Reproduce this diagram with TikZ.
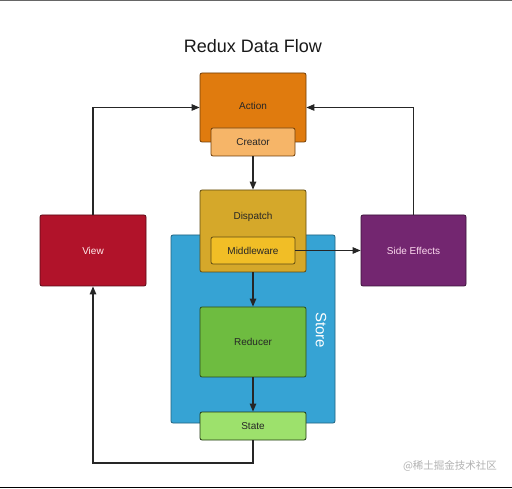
\documentclass[tikz,border=0pt]{standalone}
\usepackage{fontspec}
\setmainfont{Liberation Sans}
\newfontfamily\cjk{Noto Sans CJK SC}
\usetikzlibrary{arrows.meta}
\definecolor{cAction}{HTML}{E07B0E}
\definecolor{cCreator}{HTML}{F6B568}
\definecolor{cDispatch}{HTML}{D5A82A}
\definecolor{cMiddle}{HTML}{F1BE26}
\definecolor{cStore}{HTML}{36A3D4}
\definecolor{cReducer}{HTML}{6EBC40}
\definecolor{cState}{HTML}{9DE16C}
\definecolor{cView}{HTML}{B1132A}
\definecolor{cSide}{HTML}{732670}
\definecolor{cBorder}{HTML}{3A3020}
\tikzset{
  box/.style={draw=cBorder, line width=0.8pt, rounded corners=2pt, inner sep=0pt,
    font=\fontsize{10}{12}\selectfont, text=black!85},
  flow/.style={line width=1.2pt, draw=black!85, -{Triangle[length=8pt,width=6.5pt]}},
  plain/.style={line width=1.2pt, draw=black!85}
}
\begin{document}
\begin{tikzpicture}[x=1pt,y=-1pt]
\useasboundingbox (0,0) rectangle (512,489);
\fill[white] (0,0) rectangle (512,489);
\draw[black!60, line width=0.8pt] (0,0.5) -- (512,0.5);
\draw[black, line width=1.2pt] (0,487.8) -- (512,487.8);

\node[font=\fontsize{18}{20}\selectfont, text=black!90] (title) at (253,46) {Redux Data Flow};

% store (behind)
\node[box, fill=cStore, draw=cStore!60!black, minimum width=164pt, minimum height=188pt] (store) at (253,329) {};
\node[rotate=-90, text=white, font=\fontsize{15}{17}\selectfont] (storelbl) at (321,330) {Store};

% action + creator
\node[box, fill=cAction, draw=cAction!50!black, minimum width=106pt, minimum height=69pt] (action) at (253,107.5) {};
\node[font=\fontsize{10}{12}\selectfont, text=black!85] (actionlbl) at (253,106) {Action};
\node[box, fill=cCreator, draw=cAction!50!black, minimum width=84pt, minimum height=28pt] (creator) at (253,142) {Creator};

% dispatch + middleware
\node[box, fill=cDispatch, draw=cDispatch!45!black, minimum width=106pt, minimum height=82pt] (dispatch) at (253,231) {};
\node[font=\fontsize{10}{12}\selectfont, text=black!85] (dispatchlbl) at (253,217) {Dispatch};
\node[box, fill=cMiddle, draw=cDispatch!45!black, minimum width=84pt, minimum height=27pt] (mw) at (253,250.5) {Middleware};

% reducer + state
\node[box, fill=cReducer, draw=cReducer!40!black, minimum width=106pt, minimum height=70pt] (reducer) at (253,342) {Reducer};
\node[box, fill=cState, draw=cReducer!30!black, minimum width=106pt, minimum height=28pt] (state) at (253,426) {State};

% view + side effects
\node[box, fill=cView, draw=cView!50!black, text=white!92!red, minimum width=106pt, minimum height=71pt] (view) at (93,250.5) {View};
\node[box, fill=cSide, draw=cSide!50!black, text=white!85!magenta, minimum width=105pt, minimum height=71pt] (side) at (413.5,250.5) {Side Effects};

\coordinate (bl) at (93,463);
\coordinate (br) at (253,463);

% connectors
\draw[flow] (creator.south) -- (dispatch.north);
\draw[flow] (dispatch.south) -- (reducer.north);
\draw[flow] (reducer.south) -- (state.north);
\draw[flow] (mw.east) -- (side.west);
\draw[flow] (view.north) |- (action.west);
\draw[flow] (side.north) |- (action.east);
\draw[flow] (state.south) -- (br) -- (bl) -- (view.south);

\node[font=\cjk\fontsize{10.5}{12}\selectfont, text=black!30] (wm) at (450,466) {@稀土掘金技术社区};
\end{tikzpicture}
\end{document}
